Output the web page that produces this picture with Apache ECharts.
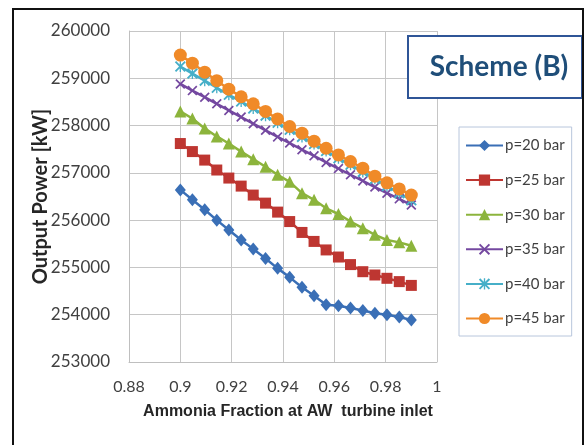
<!DOCTYPE html>
<html><head><meta charset="utf-8">
<script src="https://cdn.jsdelivr.net/npm/echarts@6/dist/echarts.min.js"></script>
<style>html,body{margin:0;padding:0;background:#fff}#c{width:588px;height:445px}</style>
</head><body><div id="c"></div>
<script>
// Ammonia fraction at AW turbine inlet (20 evenly spaced points 0.90 .. 0.99)
const ammoniaFraction = [0.9, 0.9047, 0.9095, 0.9142, 0.9189, 0.9237, 0.9284, 0.9332, 0.9379, 0.9426,
  0.9474, 0.9521, 0.9568, 0.9616, 0.9663, 0.9711, 0.9758, 0.9805, 0.9853, 0.99];
const p20 = [256640, 256430, 256220, 256000, 255790, 255580, 255390, 255190, 254980, 254790,
  254580, 254400, 254210, 254190, 254140, 254090, 254030, 254000, 253950, 253890];
const p25 = [257620, 257450, 257270, 257060, 256890, 256720, 256530, 256360, 256170, 255970,
  255740, 255550, 255370, 255220, 255060, 254910, 254840, 254770, 254700, 254620];
const p30 = [258300, 258150, 257940, 257770, 257620, 257450, 257290, 257130, 256960, 256810,
  256570, 256430, 256250, 256130, 255970, 255830, 255690, 255580, 255530, 255460];
const p35 = [258880, 258740, 258600, 258460, 258320, 258180, 258040, 257900, 257760, 257630,
  257490, 257360, 257220, 257090, 256960, 256830, 256700, 256570, 256450, 256320];
const p40 = [259250, 259100, 258950, 258800, 258650, 258510, 258360, 258210, 258060, 257910,
  257760, 257610, 257460, 257310, 257170, 257020, 256870, 256720, 256570, 256420];
const p45 = [259490, 259320, 259130, 258950, 258770, 258610, 258460, 258300, 258140, 257980,
  257840, 257670, 257520, 257380, 257240, 257100, 256930, 256790, 256660, 256530];
const seriesNames = ['p=20 bar', 'p=25 bar', 'p=30 bar', 'p=35 bar', 'p=40 bar', 'p=45 bar'];
const seriesValues = [p20, p25, p30, p35, p40, p45];
const xMin = 0.88, xMax = 1, xStep = 0.02;
const yMin = 253000, yMax = 260000, yStep = 1000;

const colors = ['#3a6fb6', '#be3631', '#8cb43c', '#7448a0', '#46afc8', '#f08a28'];
const X_PATH = 'path://M0,1.2L1.2,0L5,3.8L8.8,0L10,1.2L6.2,5L10,8.8L8.8,10L5,6.2L1.2,10L0,8.8L3.8,5Z';
const STAR_PATH = 'path://M0,1.2L1.2,0L5,3.8L8.8,0L10,1.2L6.2,5L10,8.8L8.8,10L5,6.2L1.2,10L0,8.8L3.8,5Z M4.4,0L5.6,0L5.6,10L4.4,10Z';
const symbols = ['diamond', 'rect', 'triangle', X_PATH, STAR_PATH, 'circle'];
const symSizes = [[11, 13], 11, 12, 10, 11, 13];

const chart = echarts.init(document.getElementById('c'), null, {renderer: 'canvas'});
const tickFont = 'Lato';
chart.setOption({
  animation: false,
  backgroundColor: '#fff',
  grid: {left: 129, right: 151, top: 31, bottom: 83, containLabel: false},
  xAxis: {
    type: 'value', min: xMin, max: xMax, interval: xStep,
    name: 'Ammonia Fraction at AW  turbine inlet', nameLocation: 'middle', nameGap: 42,
    nameMoveOverlap: false,
    nameTextStyle: {fontFamily: 'Liberation Sans', fontSize: 16, fontWeight: 'bold', color: '#262626',
      padding: [0, 0, 0, 10]},
    axisLine: {show: true, lineStyle: {color: '#bfbfbf', width: 1}},
    axisTick: {show: false},
    axisLabel: {fontFamily: tickFont, fontSize: 16, color: '#404040', margin: 17},
    splitLine: {show: true, lineStyle: {color: '#c6c6c6', width: 1}}
  },
  yAxis: {
    type: 'value', min: yMin, max: yMax, interval: yStep,
    name: 'Output Power [kW]', nameLocation: 'middle', nameGap: 78, nameRotate: 90,
    nameMoveOverlap: false,
    nameTextStyle: {fontFamily: tickFont, fontSize: 20, fontWeight: 'bold', color: '#262626'},
    axisLine: {show: true, lineStyle: {color: '#bfbfbf', width: 1}},
    axisTick: {show: false},
    axisLabel: {fontFamily: tickFont, fontSize: 17, color: '#404040', margin: 19,
      formatter: v => String(v)},
    splitLine: {show: true, lineStyle: {color: '#c6c6c6', width: 1}}
  },
  legend: {
    orient: 'vertical', left: 459, top: 127,
    padding: [11, 7, 10, 6], itemGap: 19.6, itemWidth: 37, itemHeight: 14,
    backgroundColor: '#fff', borderColor: '#b8c6dc', borderWidth: 1,
    textStyle: {fontFamily: tickFont, fontSize: 15, color: '#404040', padding: [0, 0, 0, -3]},
    data: seriesNames
  },
  graphic: [
    {type: 'rect', z: 100, silent: true, shape: {x: 408, y: 36, width: 174, height: 62},
      style: {fill: '#fff', stroke: '#2f5597', lineWidth: 2}},
    {type: 'text', z: 101, silent: true, x: 499, y: 67,
      style: {text: 'Scheme (B)', fontFamily: tickFont, fontWeight: 'bold', fontSize: 28,
        fill: '#1f4e79', align: 'center', verticalAlign: 'middle'}},
    {type: 'rect', z: 102, silent: true, shape: {x: 13, y: 9, width: 570, height: 460},
      style: {fill: 'none', stroke: '#111', lineWidth: 2}}
  ],
  series: seriesNames.map((name, i) => ({
    name: name, type: 'line',
    data: ammoniaFraction.map((x, j) => [x, seriesValues[i][j]]),
    symbol: symbols[i], symbolSize: symSizes[i], showSymbol: true,
    lineStyle: {color: colors[i], width: 2.5},
    itemStyle: {color: colors[i], borderWidth: 0},
    emphasis: {disabled: true}
  }))
});
</script></body></html>
